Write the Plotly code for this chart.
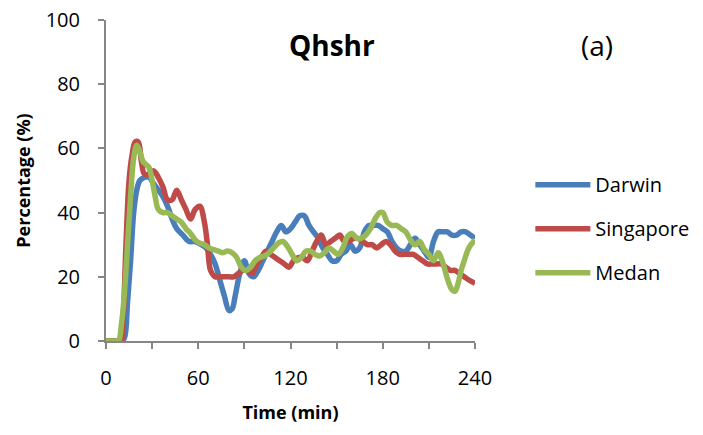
import plotly.graph_objects as go

# Time (min) and percentage series for each station
darwin_t = [0, 5, 10, 12, 14, 16, 18, 20, 22, 25, 28, 31, 34, 37, 40, 43, 46, 50, 54, 58,
            62, 65, 68, 71, 74, 77, 80, 82, 84, 87, 90, 93, 96, 99, 102, 105, 108, 111, 114, 117,
            120, 123, 126, 129, 132, 135, 138, 141, 144, 147, 150, 153, 156, 159, 162, 165, 168,
            171, 174, 177, 180, 183, 186, 189, 192, 195, 198, 201, 204, 207, 210, 213, 216, 219,
            222, 225, 228, 231, 234, 237, 240]
darwin_y = [0, 0, 0, 1, 12, 25, 40, 47, 50, 51, 51, 49, 47, 45, 42, 38, 35, 33, 31, 31,
            30, 29, 27, 24, 19, 14, 9.5, 10, 14, 21, 25, 21, 20, 22, 25, 28, 31, 34, 36, 34,
            35, 37, 39, 39, 36, 34, 32, 29, 27, 25, 25, 27, 28, 30, 28, 29, 34,
            36, 36, 36, 35, 34, 31, 29, 28, 28, 30, 32, 30, 28, 26, 31, 34, 34,
            34, 33, 33, 34, 34, 33, 32]

singapore_t = [0, 5, 10, 11, 13, 15, 17, 19, 21, 23, 25, 28, 31, 34, 37, 40, 43, 46, 49, 52,
               55, 58, 61, 64, 66, 68, 71, 74, 77, 80, 83, 86, 89, 92, 95, 98, 101, 104, 107, 110,
               113, 116, 119, 122, 125, 128, 131, 134, 137, 140, 143, 146, 149, 152, 155, 158, 161,
               164, 167, 170, 173, 176, 179, 182, 185, 188, 191, 194, 197, 200, 203, 206, 209, 212,
               215, 218, 221, 224, 227, 230, 233, 236, 240]
singapore_y = [0, 0, 0, 5, 30, 50, 58, 62, 62, 56, 52, 52, 53, 51, 48, 44, 44, 47, 44, 41,
               38, 41, 42, 37, 30, 22, 20, 20, 20, 20, 20, 21, 22, 22, 21, 24, 26, 28, 27, 26,
               25, 24, 23, 25, 26, 26, 25, 28, 31, 33, 30, 31, 32, 33, 31, 31, 32,
               32, 31, 30, 30, 29, 30, 31, 30, 28, 27, 27, 27, 27, 26, 25, 24, 24,
               24, 24, 23, 22, 22, 21, 20, 19, 18]

medan_t = [0, 4, 8, 10, 12, 14, 16, 18, 20, 22, 24, 26, 28, 30, 32, 34, 37, 40, 43, 46,
           49, 52, 55, 58, 61, 64, 67, 70, 73, 76, 79, 82, 85, 88, 91, 94, 97, 100, 103, 106,
           109, 112, 115, 118, 121, 124, 127, 130, 133, 136, 139, 142, 145, 148, 151, 154, 157,
           160, 163, 166, 169, 172, 175, 178, 180, 183, 186, 189, 192, 195, 198, 201, 204, 207,
           210, 213, 216, 219, 222, 225, 227, 229, 231, 233, 236, 240]
medan_y = [0, 0, 0, 5, 15, 30, 45, 57, 61, 59, 56, 55, 54, 50, 45, 41, 40, 40, 39, 38,
           37, 35, 33.5, 31.5, 30.5, 30, 29, 28.5, 28, 27.5, 28, 27.5, 26, 23, 22, 23, 25, 26, 26.5, 27.5,
           29, 30.5, 31, 29.5, 27, 25, 26, 28, 28, 27, 26.5, 27.5, 29, 28, 27, 29, 32.5,
           33.5, 32, 32, 33, 35, 38, 40, 40, 37, 36, 36, 35, 34, 31.5, 30, 31, 28.5,
           27, 25, 27.5, 24.5, 19.5, 16, 15.5, 18, 22, 25, 29, 31.5]

series = [
    ("Darwin", darwin_t, darwin_y, "#4A7EBB"),
    ("Singapore", singapore_t, singapore_y, "#BE4B48"),
    ("Medan", medan_t, medan_y, "#98B954"),
]

FONT = "'Open Sans', 'Liberation Sans', sans-serif"
AXIS_GREY = "#868686"

fig = go.Figure()
for name, t, y, color in series:
    fig.add_trace(go.Scatter(
        x=t, y=y, name=name, mode="lines", legendgroup=name,
        line=dict(color=color, width=5.5, shape="spline", smoothing=1.0),
    ))

fig.update_layout(
    width=703, height=435,
    margin=dict(l=106, r=228, t=20, b=94, autoexpand=False),
    paper_bgcolor="white", plot_bgcolor="white",
    font=dict(family=FONT, color="black", size=20),
    showlegend=True,
    legend=dict(
        x=1.15, y=0.35, xanchor="left", yanchor="middle",
        font=dict(size=20, family=FONT),
        traceorder="grouped", tracegroupgap=15,
        itemwidth=55,
        bgcolor="rgba(0,0,0,0)",
    ),
    annotations=[
        dict(text="<b>Qhshr</b>", xref="paper", yref="paper", x=0.612, y=0.922,
             xanchor="center", yanchor="middle", showarrow=False,
             font=dict(size=28, family=FONT)),
        dict(text="(a)", xref="paper", yref="paper", x=1.33, y=0.922,
             xanchor="center", yanchor="middle", showarrow=False,
             font=dict(size=28, family=FONT)),
    ],
)

fig.update_xaxes(
    range=[0, 240], tickmode="linear", tick0=0, dtick=60,
    showgrid=False, zeroline=False,
    showline=True, linecolor=AXIS_GREY, linewidth=2,
    ticks="outside", ticklen=6, tickcolor=AXIS_GREY, tickwidth=2,
    minor=dict(dtick=30, ticks="outside", ticklen=6, tickcolor=AXIS_GREY, tickwidth=2, showgrid=False),
    tickfont=dict(size=20, family=FONT),
    ticklabelstandoff=12,
    title=dict(text="<b>Time (min)</b>", font=dict(size=18, family=FONT), standoff=16),
)
fig.update_yaxes(
    range=[0, 100], tickmode="linear", tick0=0, dtick=20,
    showgrid=False, zeroline=False,
    showline=True, linecolor=AXIS_GREY, linewidth=2,
    ticks="outside", ticklen=6, tickcolor=AXIS_GREY, tickwidth=2,
    tickfont=dict(size=20, family=FONT),
    ticklabelstandoff=14,
    title=dict(text="<b>Percentage (%)</b>", font=dict(size=18, family=FONT), standoff=10),
)

fig.write_html("out.html")
